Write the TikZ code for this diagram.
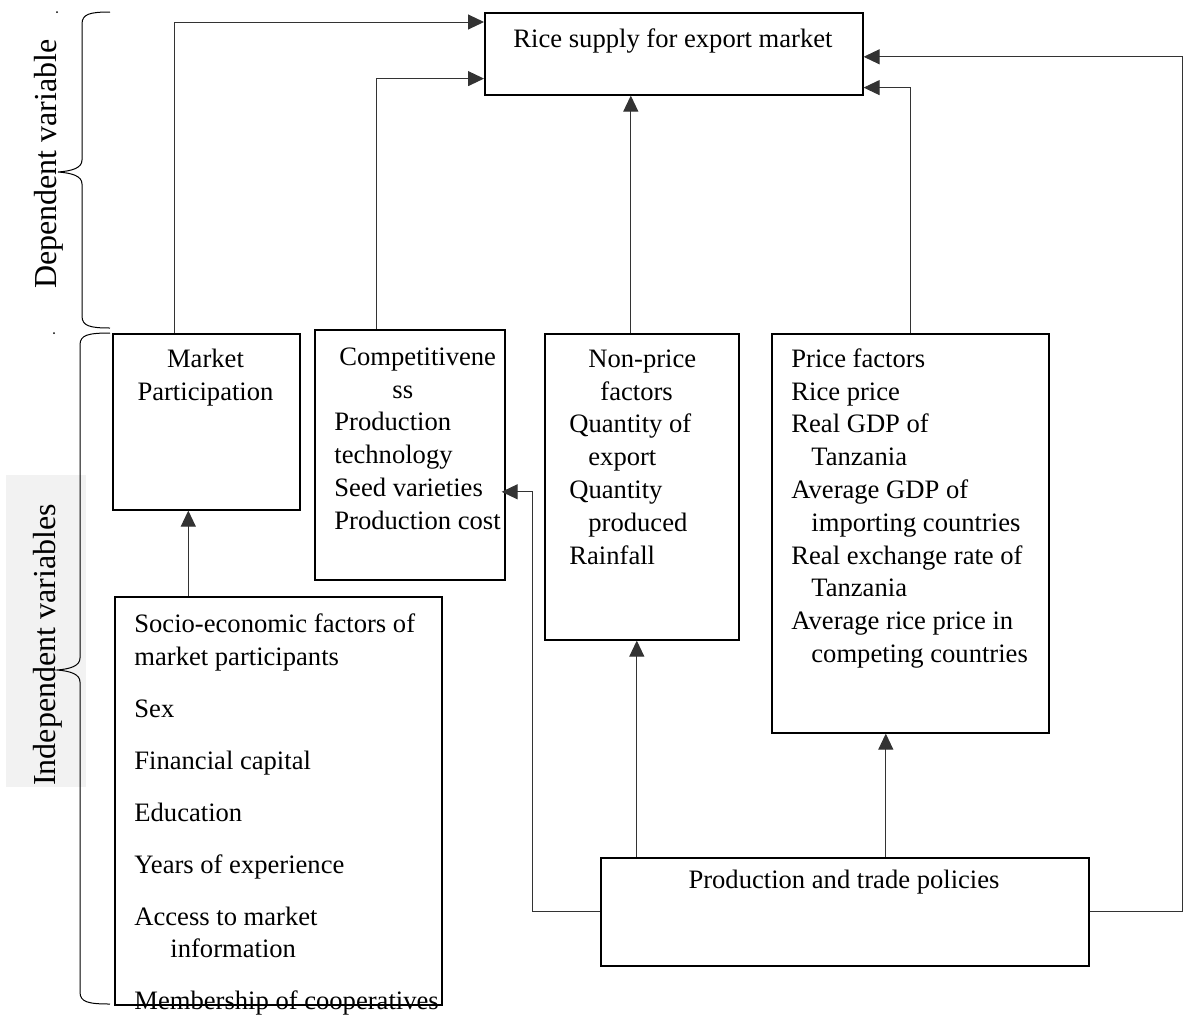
\documentclass[tikz,border=0pt]{standalone}
\usepackage{fontspec}
\setmainfont{Liberation Serif}
\usetikzlibrary{arrows.meta}

\begin{document}
\begin{tikzpicture}[x=0.5pt,y=-0.5pt,
  box/.style={draw,line width=0.8pt,inner sep=0pt,anchor=north west},
  txt/.style={inner sep=0pt,align=left,anchor=north west,font=\fontsize{13.3}{16.4}\selectfont},
  link/.style={draw=black!80,line width=0.5pt,-{Triangle[length=8pt,width=7.5pt]}},
  side/.style={inner sep=0pt,rotate=90,anchor=base,font=\fontsize{16}{18}\selectfont}]
  \useasboundingbox (0,0) rectangle (1183,1018);
  \fill[black!5] (6,475) rectangle (86,787);
  \draw[line width=0.5pt] (110,12) .. controls (90,12) and (82,14) .. (82,24) -- (82,160)
    .. controls (82,168) and (72,171) .. (58,172) .. controls (72,173) and (82,176) .. (82,184)
    -- (82,316) .. controls (82,326) and (90,328) .. (110,328);
  \draw[line width=0.5pt] (110,333) .. controls (88,333) and (80,335) .. (80,345) -- (80,658)
    .. controls (80,666) and (70,669) .. (57,670) .. controls (70,671) and (80,674) .. (80,682)
    -- (80,992) .. controls (80,1002) and (88,1004) .. (110,1004);
  \fill (57,12) circle (1);
  \fill (54,333) circle (1);
  \node[side] (dep) at (56,164) {Dependent variable};
  \node[side] (indep) at (55,645) {Independent variables};

  \node[box,minimum width=189pt,minimum height=41pt] (rice) at (484,12) {};
  \node[box,minimum width=93.5pt,minimum height=88pt] (mkt) at (112,333) {};
  \node[box,minimum width=95pt,minimum height=125pt] (comp) at (314,329) {};
  \node[box,minimum width=97pt,minimum height=153pt] (np) at (544,333) {};
  \node[box,minimum width=138.5pt,minimum height=199.5pt] (price) at (771,333) {};
  \node[box,minimum width=163.5pt,minimum height=204pt] (socio) at (114,596) {};
  \node[box,minimum width=244pt,minimum height=54pt] (pol) at (600,857) {};

  \node[txt,anchor=base] (rice-t) at (673,47) {Rice supply for export market};
  \node[txt,align=center,anchor=north] (mkt-t) at (205.5,344) {\strut Market\\Participation};
  \node[txt] (comp-t) at (334,342) {\strut\hspace*{2.5pt}Competitivene\\\hspace*{29pt}ss\\Production\\technology\\Seed varieties\\Production cost};
  \node[txt] (np-t) at (569,344) {\strut\hspace*{9.5pt}Non-price\\\hspace*{15.5pt}factors\\Quantity of\\\hspace*{9.5pt}export\\Quantity\\\hspace*{9.5pt}produced\\Rainfall};
  \node[txt] (price-t) at (791,344) {\strut Price factors\\Rice price\\Real GDP of\\\hspace*{10pt}Tanzania\\Average GDP of\\\hspace*{10pt}importing countries\\Real exchange rate of\\\hspace*{10pt}Tanzania\\Average rice price in\\\hspace*{10pt}competing countries};
  \node[txt] (socio-t) at (134,609) {\strut Socio-economic factors of\\market participants\\[9.6pt]Sex\\[9.6pt]Financial capital\\[9.6pt]Education\\[9.6pt]Years of experience\\[9.6pt]Access to market\\\hspace*{18pt}information\\[9.6pt]Membership of cooperatives};
  \node[txt,anchor=base] (pol-t) at (844,888) {Production and trade policies};

  \coordinate (farR) at (1182,0);
  \coordinate (farL) at (532,0);
  \coordinate (r-in) at ([yshift=-1.5pt]rice.east);
  \coordinate (c-in) at ([xshift=-2pt,yshift=-18.5pt]comp.east);

  \draw[link] ([xshift=-16pt]mkt.north) |- ([yshift=-5pt]rice.north west);
  \draw[link] ([xshift=-16.5pt]comp.north) |- ([yshift=8.5pt]rice.south west);
  \draw[link] ([xshift=-5.5pt]np.north) -- ([xshift=-5.5pt]np.north |- rice.south);
  \draw[link] (price.north) |- ([yshift=4pt]rice.south east);
  \draw[link] (pol.east) -- (pol.east -| farR) -- (r-in -| farR) -- (r-in);
  \draw[link] (pol.west) -- (pol.west -| farL) -- (c-in -| farL) -- (c-in);
  \draw[link] ([xshift=-104pt]pol.north) -- ([xshift=-104pt]pol.north |- np.south);
  \draw[link] ([xshift=20.5pt]pol.north) -- ([xshift=20.5pt]pol.north |- price.south);
  \draw[link] ([xshift=-45pt]socio.north) -- ([xshift=-45pt]socio.north |- mkt.south);
\end{tikzpicture}
\end{document}
